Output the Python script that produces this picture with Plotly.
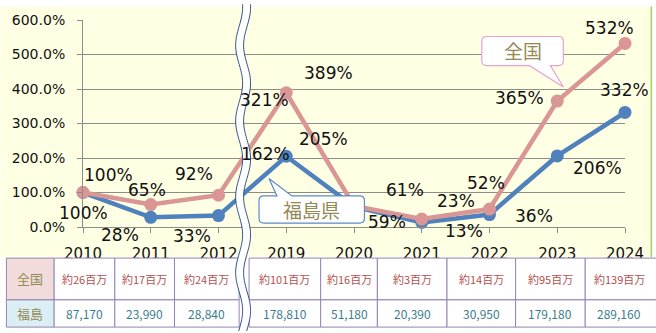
import math
import plotly.graph_objects as go

# ---- data -------------------------------------------------------------
years = ["2010", "2011", "2012", "2019", "2020", "2021", "2022", "2023", "2024"]
zenkoku_pct = [100, 65, 92, 389, 61, 23, 52, 365, 532]      # 全国 (2010 = 100%)
fukushima_pct = [100, 28, 33, 205, 59, 13, 36, 206, 332]    # 福島県 (2010 = 100%)
zenkoku_visitors = ["約26百万", "約17百万", "約24百万", "約101百万", "約16百万",
                    "約3百万", "約14百万", "約95百万", "約139百万"]
fukushima_visitors = ["87,170", "23,990", "28,840", "178,810", "51,180",
                      "20,390", "30,950", "179,180", "289,160"]
row_headers = ["全国", "福島"]
break_labels = ["321%", "162%"]
series_names = ["全国", "福島県"]
y_ticks = [0, 100, 200, 300, 400, 500, 600]
Y_MAX = 600

# ---- layout constants (pixels) ---------------------------------------
W, H = 656, 333
L, R, T, B = 83, 628, 14, 227

def fx(px):
    return (px - L) / (R - L)

def fy(py):
    return (B - py) / (B - T)

def pt(x, y):
    return f"{fx(x):.5f},{fy(y):.5f}"

PINK = "#D99694"
BLUE = "#4F81BD"
GRID = "#8C8C8C"
OLIVE = "#948A54"
NUM_FONT = "DejaVu Sans"
CJK_FONT = "Noto Sans CJK JP"

fig = go.Figure()
fig.add_trace(go.Scatter(
    x=years, y=fukushima_pct, mode="lines+markers", name=series_names[1],
    line=dict(color=BLUE, width=4.5), marker=dict(color=BLUE, size=13),
    cliponaxis=False, hoverinfo="skip"))
fig.add_trace(go.Scatter(
    x=years, y=zenkoku_pct, mode="lines+markers", name=series_names[0],
    line=dict(color=PINK, width=4.5), marker=dict(color=PINK, size=13),
    cliponaxis=False, hoverinfo="skip"))

shapes = []
annotations = []

def label(x, y, text, font, **kw):
    d = dict(x=x, y=y, xref="paper", yref="paper", text=text, showarrow=False,
             xanchor="center", yanchor="middle", font=font)
    d.update(kw)
    annotations.append(d)

# chart area background and its green right edge
shapes.append(dict(type="rect", xref="paper", yref="paper", layer="below",
                   x0=fx(0), x1=fx(654), y0=fy(0), y1=fy(258),
                   fillcolor="#FFFFE4", line=dict(width=0)))
shapes.append(dict(type="line", xref="paper", yref="paper",
                   x0=fx(654.5), x1=fx(654.5), y0=fy(0), y1=fy(258),
                   line=dict(color="#9BD35A", width=1.5)))

# data labels: placed at each marker's axis fraction, nudged by a pixel offset
pink_off = [(25, -18), (-4, -15), (-25, -21), (42, -20), (51, -16),
            (34, -18), (-4, -26), (-38, -3), (-16, -15)]
blue_off = [(0, 20), (-31, 18), (-27, 20), (37, -17), (33, 15),
            (42, 8), (44, 1), (40, 12), (-1, -22)]
n_cat = len(years) - 1
for vals, offs in ((zenkoku_pct, pink_off), (fukushima_pct, blue_off)):
    for i, (v, (dx, dy)) in enumerate(zip(vals, offs)):
        label(i / n_cat, v / Y_MAX, f"{v}%",
              dict(family=NUM_FONT, size=17, color="#111111"),
              xshift=dx, yshift=-dy)

# labels sitting over the axis break
for txt, (bx, by) in zip(break_labels, [(266, 96), (267, 152)]):
    label(fx(bx), fy(by), txt, dict(family=NUM_FONT, size=17, color="#111111"))

# ---- table under the chart ------------------------------------------
col_edges = [(54, 115), (115, 175), (175, 240), (250, 322), (322, 379),
             (379, 449), (449, 518), (518, 588), (588, 662)]
hdr = (6, 54)
rows = [(259, 302), (302, 330)]
hdr_fill = ["#F2DCDB", "#DBEEF4"]
row_colors = ["#B5504E", "#3B7C8E"]
row_sizes = [11, 12]
BORDER = "#9484B6"

for (r0, r1), fill in zip(rows, hdr_fill):
    shapes.append(dict(type="rect", xref="paper", yref="paper",
                       x0=fx(hdr[0]), x1=fx(hdr[1]), y0=fy(r0), y1=fy(r1),
                       fillcolor=fill, line=dict(color=BORDER, width=1)))
    for c0, c1 in col_edges:
        shapes.append(dict(type="rect", xref="paper", yref="paper",
                           x0=fx(c0), x1=fx(c1), y0=fy(r0), y1=fy(r1),
                           fillcolor="white", line=dict(color=BORDER, width=1)))

for i, (r0, r1) in enumerate(rows):
    label(fx((hdr[0] + hdr[1]) / 2), fy((r0 + r1) / 2), row_headers[i],
          dict(family=CJK_FONT, size=13, color=OLIVE))
    texts = zenkoku_visitors if i == 0 else fukushima_visitors
    for (c0, c1), t in zip(col_edges, texts):
        cx = (c0 + min(c1, 656)) / 2
        label(fx(cx), fy((r0 + r1) / 2), t,
              dict(family=CJK_FONT, size=row_sizes[i], color=row_colors[i]))

# ---- wavy axis break -------------------------------------------------
def wave_x(y, base):
    return base - 3.5 * math.cos(2 * math.pi * (y - 40) / 78)

ys = list(range(-2, 336, 2))
left = [(wave_x(y, 240), y) for y in ys]
right = [(wave_x(y, 248), y) for y in ys]
fill_path = "M" + " L".join(pt(x, y) for x, y in left) + " L" + \
    " L".join(pt(x, y) for x, y in reversed(right)) + " Z"
shapes.append(dict(type="path", xref="paper", yref="paper", layer="above",
                   path=fill_path, fillcolor="white", line=dict(width=0)))
for side in (left, right):
    shapes.append(dict(type="path", xref="paper", yref="paper", layer="above",
                       path="M" + " L".join(pt(x, y) for x, y in side),
                       line=dict(color="#2E4F8C", width=1)))

# ---- callouts --------------------------------------------------------
def callout_path(x0, y0, x1, y1, r, edge, b0, b1, tip):
    p = [f"M{pt(x0 + r, y0)}"]
    if edge == "top":
        p += [f"L{pt(b0, y0)}", f"L{pt(*tip)}", f"L{pt(b1, y0)}"]
    p += [f"L{pt(x1 - r, y0)}", f"Q{pt(x1, y0)} {pt(x1, y0 + r)}",
          f"L{pt(x1, y1 - r)}", f"Q{pt(x1, y1)} {pt(x1 - r, y1)}"]
    if edge == "bottom":
        p += [f"L{pt(b1, y1)}", f"L{pt(*tip)}", f"L{pt(b0, y1)}"]
    p += [f"L{pt(x0 + r, y1)}", f"Q{pt(x0, y1)} {pt(x0, y1 - r)}",
          f"L{pt(x0, y0 + r)}", f"Q{pt(x0, y0)} {pt(x0 + r, y0)}", "Z"]
    return " ".join(p)

shapes.append(dict(type="path", xref="paper", yref="paper", layer="above",
                   path=callout_path(484, 31, 566, 61, 5, "bottom", 532, 553, (566, 83)),
                   fillcolor="white", line=dict(color="#E8A2D2", width=1.2)))
label(fx(525), fy(45), series_names[0], dict(family=CJK_FONT, size=19, color=OLIVE))

shapes.append(dict(type="path", xref="paper", yref="paper", layer="above",
                   path=callout_path(260, 195, 366, 223, 5, "top", 278, 293, (270, 177)),
                   fillcolor="white", line=dict(color="#5B8BCB", width=1.2)))
label(fx(313), fy(209), series_names[1], dict(family=CJK_FONT, size=19, color=OLIVE))

fig.update_layout(
    width=W, height=H,
    margin=dict(l=L, r=W - R, t=T, b=H - B, pad=0),
    paper_bgcolor="white", plot_bgcolor="rgba(0,0,0,0)",
    showlegend=False,
    shapes=shapes, annotations=annotations,
    xaxis=dict(type="category", range=[0, n_cat], showgrid=False, zeroline=False,
               showline=True, linecolor=GRID, linewidth=1,
               ticks="outside", ticklen=5, tickcolor=GRID, ticklabelstandoff=8,
               tickfont=dict(family=NUM_FONT, size=15, color="#111111")),
    yaxis=dict(range=[0, Y_MAX], tickmode="array", tickvals=y_ticks,
               ticktext=[f"{v:.1f}%" for v in y_ticks],
               showgrid=True, gridcolor=GRID, gridwidth=1, zeroline=False,
               showline=True, linecolor=GRID, linewidth=1,
               ticks="outside", ticklen=5, tickcolor=GRID, ticklabelstandoff=9,
               tickfont=dict(family=NUM_FONT, size=14, color="#111111")),
)

fig.write_html("out.html")
